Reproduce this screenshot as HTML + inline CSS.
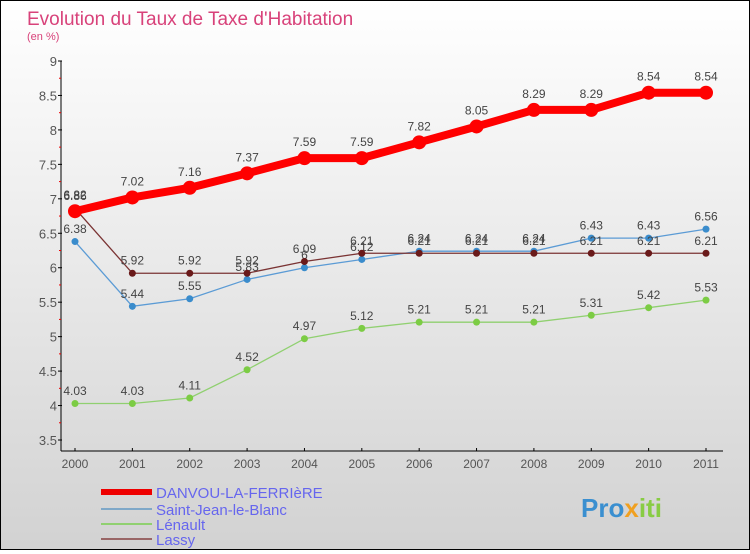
<!DOCTYPE html>
<html><head><meta charset="utf-8"><style>
body{margin:0;width:750px;height:550px;overflow:hidden;font-family:"Liberation Sans",sans-serif}
#c{position:relative;width:748px;height:548px;border:1px solid #000;background:linear-gradient(#fff,#d2d2d2)}
</style></head><body>
<div id="c">
<svg id="s" width="748" height="548">
<text x="26" y="24" font-size="19" fill="#d8427a">Evolution du Taux de Taxe d'Habitation</text>
<text x="26" y="39" font-size="11" fill="#d8427a">(en %)</text>
<g id="ax"></g><g id="ser"></g>
<g>
<rect x="100" y="488" width="51" height="6" fill="#e00"/>
<rect x="100" y="507" width="51" height="2" fill="#7fa8c8"/>
<rect x="100" y="522" width="51" height="2" fill="#90d070"/>
<rect x="100" y="537" width="51" height="2" fill="#996666"/>
<g font-size="15" fill="#6666ee">
<text x="155" y="497">DANVOU-LA-FERRIèRE</text>
<text x="155" y="514">Saint-Jean-le-Blanc</text>
<text x="155" y="529">Lénault</text>
<text x="155" y="544">Lassy</text></g></g>
<text x="580" y="516" font-size="26" font-weight="bold" fill="#3a8fd0">Pro<tspan fill="#f0a020">x</tspan><tspan fill="#8c4">iti</tspan></text>
</svg></div>
<script>
const years=["2000","2001","2002","2003","2004","2005","2006","2007","2008","2009","2010","2011"];
const yTicks=[3.5,4,4.5,5,5.5,6,6.5,7,7.5,8,8.5,9];
const danvou=[6.82,7.02,7.16,7.37,7.59,7.59,7.82,8.05,8.29,8.29,8.54,8.54];
const saintJean=[6.38,5.44,5.55,5.83,6.0,6.12,6.24,6.24,6.24,6.43,6.43,6.56];
const lenault=[4.03,4.03,4.11,4.52,4.97,5.12,5.21,5.21,5.21,5.31,5.42,5.53];
const lassy=[6.86,5.92,5.92,5.92,6.09,6.21,6.21,6.21,6.21,6.21,6.21,6.21];
const NS="http://www.w3.org/2000/svg";
const X=i=>74+i*(631/11), Y=v=>439-(v-3.5)*(379/5.5);
function mk(t,a,p){const e=document.createElementNS(NS,t);for(const k in a)e.setAttribute(k,a[k]);p.appendChild(e);return e;}
const ax=document.getElementById('ax');
let yl=mk('line',{x1:60,y1:Y(9),x2:60,y2:450,stroke:'#000'},ax);


let xl=mk('line',{x1:60,y1:450,x2:722,y2:450,stroke:'#000'},ax);


yTicks.forEach(v=>{mk('line',{x1:57,y1:Y(v),x2:61,y2:Y(v),stroke:'#000'},ax);
 if(v<9)mk('line',{x1:58,y1:Y(v+0.25),x2:60,y2:Y(v+0.25),stroke:'#e00'},ax);
 const t=mk('text',{x:56,y:Y(v)+5,'text-anchor':'end','font-size':13,fill:'#555'},ax);t.textContent=v;
 
 });
years.forEach((y,i)=>{mk('line',{x1:X(i),y1:447,x2:X(i),y2:450,stroke:'#000'},ax);
 const t=mk('text',{x:X(i),y:467,'text-anchor':'middle','font-size':12,fill:'#555'},ax);t.textContent=y;
 
 });
const ser=document.getElementById('ser');
function draw(d,col,dot,w,r,name){const g=mk('g',{},ser);
 
 
 mk('polyline',{points:d.map((v,i)=>X(i)+','+Y(v)).join(' '),fill:'none',stroke:col,'stroke-width':w},g);
 d.forEach((v,i)=>{const c=mk('circle',{cx:X(i),cy:Y(v),r:r,fill:dot},g);
  
  
  const t=mk('text',{x:X(i),y:Y(v)-(r+5),'text-anchor':'middle','font-size':12,fill:'#444'},g);t.textContent=v;
  
  });}
draw(lenault,'#90d070','#7ccc44',1.3,3.5,'series-lenault');
draw(saintJean,'#5b9bd5','#3a8ccc',1.3,3.5,'series-saint-jean');
draw(lassy,'#7a3333','#6a1a1a',1.3,3.5,'series-lassy');
draw(danvou,'#f00','#f00',8,7,'series-danvou');
</script></body></html>
